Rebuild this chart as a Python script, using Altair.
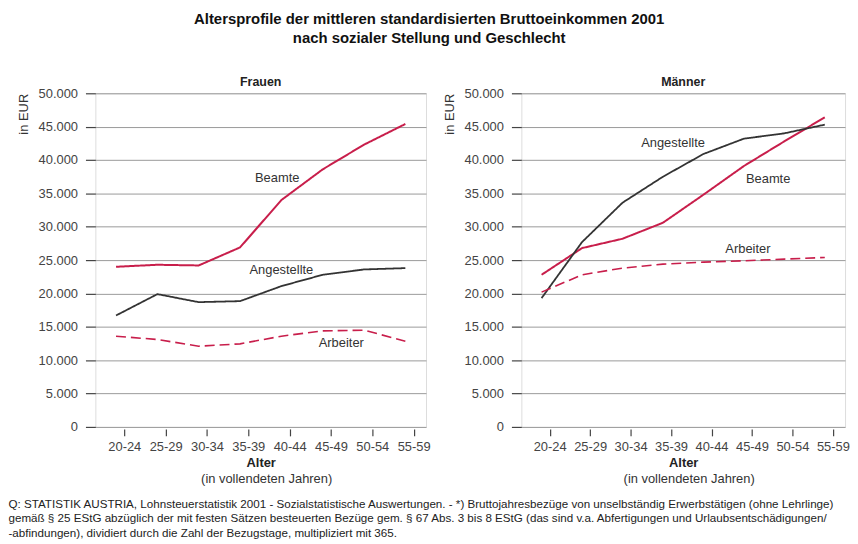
import altair as alt
import pandas as pd

FONT = "Liberation Sans"
RED = "#c81e4b"
DARK = "#333333"

ages = ["20-24", "25-29", "30-34", "35-39", "40-44", "45-49", "50-54", "55-59"]

frauen_beamte = [24000, 24300, 24200, 26900, 34000, 38600, 42300, 45400]
frauen_angestellte = [16700, 19900, 18700, 18850, 21100, 22800, 23600, 23800]
frauen_arbeiter = [13600, 13100, 12100, 12450, 13600, 14400, 14500, 12850]

maenner_beamte = [22800, 26800, 28200, 30600, 34800, 39100, 42800, 46400]
maenner_angestellte = [19300, 27700, 33600, 37500, 40900, 43200, 44000, 45300]
maenner_arbeiter = [20200, 22800, 23800, 24400, 24700, 24900, 25150, 25400]

series_names = ["Beamte", "Angestellte", "Arbeiter"]
series_colors = [RED, DARK, RED]

# label annotations (x in age-group index units, y in EUR)
frauen_labels = [("Beamte", 3.9, 37350), ("Angestellte", 4.0, 23500), ("Arbeiter", 5.45, 12500)]
maenner_labels = [("Angestellte", 3.25, 42600), ("Beamte", 5.6, 37200), ("Arbeiter", 5.1, 26600)]

title_lines = ["Altersprofile der mittleren standardisierten Bruttoeinkommen 2001",
               "nach sozialer Stellung und Geschlecht"]
footnote_lines = [
    "Q: STATISTIK AUSTRIA, Lohnsteuerstatistik 2001 - Sozialstatistische Auswertungen. - *) "
    "Bruttojahresbezüge von unselbständig Erwerbstätigen (ohne Lehrlinge)",
    "gemäß § 25 EStG abzüglich der mit festen Sätzen besteuerten Bezüge gem. § 67 Abs. 3 bis 8 EStG "
    "(das sind v.a. Abfertigungen und Urlaubsentschädigungen/",
    "-abfindungen), dividiert durch die Zahl der Bezugstage, multipliziert mit 365.",
]

TICK_SHIFT = 0.2
tick_values = [i + TICK_SHIFT for i in range(len(ages))]
label_expr = "[" + ",".join("'%s'" % a for a in ages) + "][round(datum.value - %s)]" % TICK_SHIFT

H = 336


def make_df(beamte, angestellte, arbeiter):
    rows = []
    for name, vals in zip(series_names, [beamte, angestellte, arbeiter]):
        for i, v in enumerate(vals):
            rows.append({"series": name, "idx": i, "value": v})
    return pd.DataFrame(rows)


def panel(title, beamte, angestellte, arbeiter, labels, W):
    df = make_df(beamte, angestellte, arbeiter)
    x = alt.X("idx:Q",
              scale=alt.Scale(domain=[-0.5, len(ages) - 0.5], nice=False, zero=False),
              axis=alt.Axis(values=tick_values, labelExpr=label_expr, title="Alter",
                            tickCount=len(ages) + 1,
                            titleFont=FONT, titleFontSize=13, titleFontWeight="bold",
                            titleColor="#222", titlePadding=3,
                            labelFont=FONT, labelFontSize=13, labelColor="#444",
                            labelPadding=5, tickSize=7, tickColor="#444", tickWidth=1.2,
                            domain=False, grid=False, offset=2))
    y = alt.Y("value:Q",
              scale=alt.Scale(domain=[0, 50000], nice=False),
              axis=alt.Axis(values=list(range(0, 50001, 5000)), tickCount=12,
                            labelExpr="replace(format(datum.value, ','), ',', '.')",
                            title="in EUR", titleFont=FONT, titleFontSize=13,
                            titleFontWeight="normal", titleColor="#333",
                            titleAngle=270, titleAlign="right", titleBaseline="middle",
                            titleX=-72, titleY=0,
                            labelFont=FONT, labelFontSize=13, labelColor="#444",
                            labelPadding=8, tickSize=10, tickColor="#444", tickWidth=1.2,
                            domain=False, grid=True, gridColor="#9a9a9a", gridWidth=1))
    color = alt.Color("series:N", scale=alt.Scale(domain=series_names, range=series_colors), legend=None)
    dash = alt.StrokeDash("series:N",
                          scale=alt.Scale(domain=series_names, range=[[1, 0], [1, 0], [10, 5]]),
                          legend=None)
    size = alt.Size("series:N", scale=alt.Scale(domain=series_names, range=[2, 1.6, 2]), legend=None)

    lines = alt.Chart(df).mark_line().encode(
        x=x, y=y, color=color, strokeDash=dash, size=size, detail="series:N")

    ldf = pd.DataFrame(labels, columns=["text", "lx", "ly"])
    texts = alt.Chart(ldf).mark_text(font=FONT, fontSize=13, color="#333").encode(
        x="lx:Q", y="ly:Q", text="text:N")

    sub = alt.Chart(pd.DataFrame({"t": ["(in vollendeten Jahren)"]})).mark_text(
        font=FONT, fontSize=13, color="#333").encode(
        x=alt.value(W / 2 + 6), y=alt.value(H + 52), text="t:N")

    return alt.layer(lines, texts, sub).properties(
        width=W, height=H,
        title=alt.TitleParams(title, font=FONT, fontSize=12.5, fontWeight="bold",
                              color="#222", offset=-1))


left = panel("Frauen", frauen_beamte, frauen_angestellte, frauen_arbeiter, frauen_labels, 333)
right = panel("Männer", maenner_beamte, maenner_angestellte, maenner_arbeiter, maenner_labels, 326)

inner = alt.hconcat(left, right, spacing=12).properties(
    title=alt.TitleParams(footnote_lines, orient="bottom", anchor="start", frame="bounds",
                          font=FONT, fontSize=11.7, fontWeight="normal", color="#222",
                          lineHeight=14.5, offset=13, dx=-9))

chart = alt.vconcat(inner).properties(
    title=alt.TitleParams(title_lines, font=FONT, fontSize=15, fontWeight="bold",
                          color="#111", anchor="middle", offset=30, lineHeight=19),
    padding={"left": 0, "top": 2, "right": 0, "bottom": 0},
).configure_view(stroke="#555", strokeWidth=1.5).configure(background="white")

chart.save("out.html", embed_options={"renderer": "svg", "actions": False})
